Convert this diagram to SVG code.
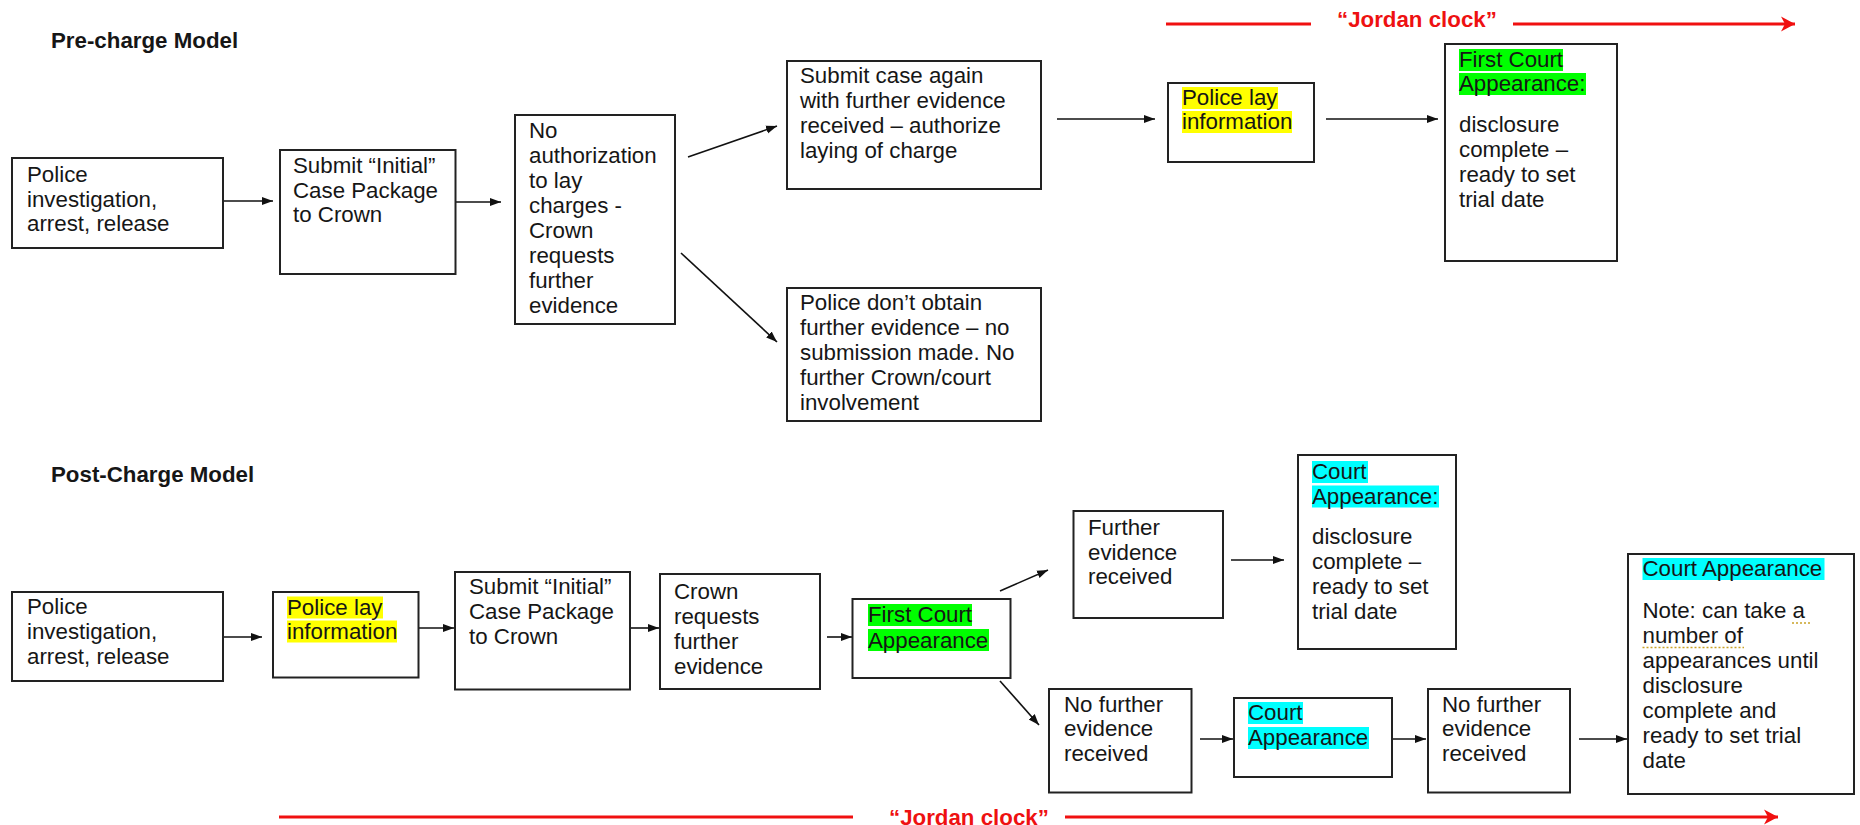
<svg xmlns="http://www.w3.org/2000/svg" width="1860" height="825" viewBox="0 0 1860 825">
<style>
.bg{fill:#ffffff}
.box{fill:#ffffff;stroke:#222222;stroke-width:2}
.t{font-family:"Liberation Sans",Arial,sans-serif;font-size:22.3px;fill:#161616}
.title{font-family:"Liberation Sans",Arial,sans-serif;font-size:22.3px;font-weight:bold;fill:#161616}
.jc{font-family:"Liberation Sans",Arial,sans-serif;font-size:22.3px;font-weight:bold;fill:#ee1111}
.conn{stroke:#111111;stroke-width:1.6;fill:none;marker-end:url(#ah)}
.red{stroke:#f01010;stroke-width:3.2;fill:none}
.redarrow{marker-end:url(#rah)}
.hy{fill:#ffff00}
.hg{fill:#00ff00}
.hc{fill:#00ffff}
.sq{stroke:#c9a227;stroke-width:1.5;stroke-dasharray:2 2;fill:none}
</style>
<defs>
<marker id="ah" markerUnits="userSpaceOnUse" markerWidth="12" markerHeight="10" refX="11" refY="5" orient="auto">
<path d="M0,1 L11,5 L0,9 z" fill="#111111"/>
</marker>
<marker id="rah" markerUnits="userSpaceOnUse" markerWidth="18" markerHeight="18" refX="16" refY="9" orient="auto">
<path d="M2,1.5 L16,9 L2,16.5 L6,9 z" fill="#f01010"/>
</marker>
</defs>
<rect class="bg" x="0" y="0" width="1860" height="825"/>

<g id="titles">
<text class="title" x="51" y="48">Pre-charge Model</text>
<text class="title" x="51" y="482">Post-Charge Model</text>
</g>

<g id="jordan-clock-top">
<line class="red" x1="1166" y1="24" x2="1311" y2="24"/>
<text class="jc" x="1337" y="27">“Jordan clock”</text>
<line class="red redarrow" x1="1513" y1="24" x2="1795" y2="24"/>
</g>

<g id="jordan-clock-bottom">
<line class="red" x1="279" y1="817" x2="853" y2="817"/>
<text class="jc" x="889" y="825">“Jordan clock”</text>
<line class="red redarrow" x1="1065" y1="817" x2="1778" y2="817"/>
</g>

<g id="connectors">
<line class="conn" x1="223" y1="201" x2="273" y2="201"/>
<line class="conn" x1="455.5" y1="202" x2="501" y2="202"/>
<line class="conn" x1="688" y1="157" x2="777" y2="126"/>
<line class="conn" x1="681" y1="253" x2="777" y2="342"/>
<line class="conn" x1="1057" y1="119" x2="1155" y2="119"/>
<line class="conn" x1="1326" y1="119" x2="1438" y2="119"/>
<line class="conn" x1="223" y1="637" x2="262" y2="637"/>
<line class="conn" x1="418.5" y1="628" x2="454" y2="628"/>
<line class="conn" x1="630" y1="628" x2="659" y2="628"/>
<line class="conn" x1="827" y1="637" x2="852" y2="637"/>
<line class="conn" x1="1000" y1="591" x2="1048" y2="570"/>
<line class="conn" x1="1000" y1="681" x2="1039" y2="725"/>
<line class="conn" x1="1231" y1="560" x2="1284" y2="560"/>
<line class="conn" x1="1200" y1="739" x2="1233" y2="739"/>
<line class="conn" x1="1392" y1="739" x2="1426" y2="739"/>
<line class="conn" x1="1579" y1="739" x2="1627" y2="739"/>
</g>

<g id="pre-police-investigation">
<rect class="box" x="12" y="158" width="211" height="90"/>
<text class="t"><tspan x="27" y="182">Police</tspan><tspan x="27" y="206.5">investigation,</tspan><tspan x="27" y="231">arrest, release</tspan></text>
</g>

<g id="pre-submit-initial">
<rect class="box" x="280" y="150" width="175.5" height="124"/>
<text class="t"><tspan x="293" y="173">Submit “Initial”</tspan><tspan x="293" y="197.5">Case Package</tspan><tspan x="293" y="222">to Crown</tspan></text>
</g>

<g id="pre-no-authorization">
<rect class="box" x="515" y="115" width="160" height="209"/>
<text class="t"><tspan x="529" y="138">No</tspan><tspan x="529" y="163">authorization</tspan><tspan x="529" y="188">to lay</tspan><tspan x="529" y="213">charges -</tspan><tspan x="529" y="238">Crown</tspan><tspan x="529" y="263">requests</tspan><tspan x="529" y="288">further</tspan><tspan x="529" y="313">evidence</tspan></text>
</g>

<g id="pre-submit-again">
<rect class="box" x="787" y="61" width="254" height="128"/>
<text class="t"><tspan x="800" y="83">Submit case again</tspan><tspan x="800" y="108">with further evidence</tspan><tspan x="800" y="133">received – authorize</tspan><tspan x="800" y="158">laying of charge</tspan></text>
</g>

<g id="pre-no-evidence">
<rect class="box" x="787" y="288" width="254" height="133"/>
<text class="t"><tspan x="800" y="310">Police don’t obtain</tspan><tspan x="800" y="335">further evidence – no</tspan><tspan x="800" y="360">submission made. No</tspan><tspan x="800" y="385">further Crown/court</tspan><tspan x="800" y="410">involvement</tspan></text>
</g>

<g id="pre-police-lay">
<rect class="box" x="1168" y="83" width="146" height="79"/>
<rect class="hy" x="1182" y="87" width="96" height="22"/>
<rect class="hy" x="1182" y="111" width="110" height="22"/>
<text class="t"><tspan x="1182" y="105">Police lay</tspan><tspan x="1182" y="129">information</tspan></text>
</g>

<g id="pre-first-court">
<rect class="box" x="1445" y="44" width="172" height="217"/>
<rect class="hg" x="1459" y="49" width="104" height="22"/>
<rect class="hg" x="1459" y="73" width="127" height="22"/>
<text class="t"><tspan x="1459" y="67">First Court</tspan><tspan x="1459" y="91">Appearance:</tspan><tspan x="1459" y="132">disclosure</tspan><tspan x="1459" y="157">complete –</tspan><tspan x="1459" y="182">ready to set</tspan><tspan x="1459" y="207">trial date</tspan></text>
</g>

<g id="post-police-investigation">
<rect class="box" x="12" y="592" width="211" height="89"/>
<text class="t"><tspan x="27" y="614">Police</tspan><tspan x="27" y="639">investigation,</tspan><tspan x="27" y="663.5">arrest, release</tspan></text>
</g>

<g id="post-police-lay">
<rect class="box" x="273" y="592" width="145.5" height="85.5"/>
<rect class="hy" x="287" y="596.5" width="96" height="22"/>
<rect class="hy" x="287" y="620.5" width="110" height="22"/>
<text class="t"><tspan x="287" y="614.5">Police lay</tspan><tspan x="287" y="638.5">information</tspan></text>
</g>

<g id="post-submit-initial">
<rect class="box" x="455" y="572" width="175" height="117.5"/>
<text class="t"><tspan x="469" y="593.5">Submit “Initial”</tspan><tspan x="469" y="618.5">Case Package</tspan><tspan x="469" y="643.5">to Crown</tspan></text>
</g>

<g id="post-crown-requests">
<rect class="box" x="660" y="574" width="160" height="115"/>
<text class="t"><tspan x="674" y="598.5">Crown</tspan><tspan x="674" y="623.5">requests</tspan><tspan x="674" y="649">further</tspan><tspan x="674" y="674">evidence</tspan></text>
</g>

<g id="post-first-court">
<rect class="box" x="852.5" y="599" width="158" height="79"/>
<rect class="hg" x="868" y="604" width="104" height="22"/>
<rect class="hg" x="868" y="629" width="121" height="22"/>
<text class="t"><tspan x="868" y="621.7">First Court</tspan><tspan x="868" y="647.7">Appearance</tspan></text>
</g>

<g id="post-further-evidence">
<rect class="box" x="1073.5" y="511" width="149.5" height="107"/>
<text class="t"><tspan x="1088" y="535">Further</tspan><tspan x="1088" y="559.5">evidence</tspan><tspan x="1088" y="583.5">received</tspan></text>
</g>

<g id="post-no-further-1">
<rect class="box" x="1049" y="689" width="142.5" height="103.5"/>
<text class="t"><tspan x="1064" y="711.5">No further</tspan><tspan x="1064" y="736">evidence</tspan><tspan x="1064" y="760.5">received</tspan></text>
</g>

<g id="post-court-disclosure">
<rect class="box" x="1298" y="455" width="158" height="194"/>
<rect class="hc" x="1312" y="461" width="56" height="22"/>
<rect class="hc" x="1312" y="485.5" width="127" height="22"/>
<text class="t"><tspan x="1312" y="479">Court</tspan><tspan x="1312" y="503.5">Appearance:</tspan><tspan x="1312" y="544">disclosure</tspan><tspan x="1312" y="569">complete –</tspan><tspan x="1312" y="594">ready to set</tspan><tspan x="1312" y="619">trial date</tspan></text>
</g>

<g id="post-court-appearance">
<rect class="box" x="1234" y="698" width="158" height="79"/>
<rect class="hc" x="1248" y="702" width="55" height="22"/>
<rect class="hc" x="1248" y="727" width="121" height="22"/>
<text class="t"><tspan x="1248" y="720">Court</tspan><tspan x="1248" y="745">Appearance</tspan></text>
</g>

<g id="post-no-further-2">
<rect class="box" x="1428" y="689" width="142" height="103.5"/>
<text class="t"><tspan x="1442" y="711.5">No further</tspan><tspan x="1442" y="736">evidence</tspan><tspan x="1442" y="760.5">received</tspan></text>
</g>

<g id="post-court-note">
<rect class="box" x="1628" y="554" width="226" height="240"/>
<rect class="hc" x="1642.5" y="558" width="182" height="22"/>
<text class="t"><tspan x="1642.5" y="576">Court Appearance</tspan><tspan x="1642.5" y="618.3">Note: can take a</tspan><tspan x="1642.5" y="642.7">number of</tspan><tspan x="1642.5" y="668">appearances until</tspan><tspan x="1642.5" y="692.7">disclosure</tspan><tspan x="1642.5" y="717.7">complete and</tspan><tspan x="1642.5" y="742.7">ready to set trial</tspan><tspan x="1642.5" y="767.7">date</tspan></text>
<path class="sq" d="M1792,623 L1811,623 M1642.5,647.5 L1744,647.5"/>
</g>
</svg>
